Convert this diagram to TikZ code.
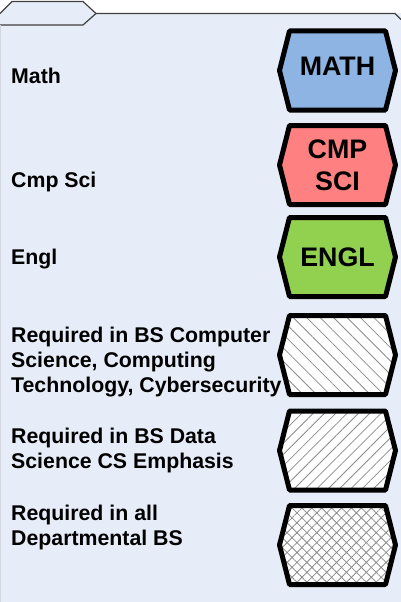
\documentclass[tikz,border=0pt]{standalone}
\usepackage{fontspec}
\setmainfont{Liberation Sans}
\usetikzlibrary{patterns.meta}
\definecolor{panelbg}{RGB}{231,237,248}
\definecolor{framegray}{RGB}{64,64,64}
\definecolor{mathblue}{RGB}{141,180,226}
\definecolor{cmpred}{RGB}{255,128,128}
\definecolor{englgreen}{RGB}{146,208,80}
\definecolor{hatchgray}{RGB}{140,140,140}
\newcommand{\lblfont}{\fontsize{21.3}{25}\selectfont\bfseries}
\newcommand{\crsfont}{\fontsize{26.8}{32}\selectfont\bfseries}
% outline of one course hexagon, drawn from its centre coordinate
\newcommand{\hexpath}[1]{(#1) ++(-58,0) -- ++(10,-39.5) -- ++(96,0) -- ++(10,39.5) -- ++(-10,39.5) -- ++(-96,0) -- cycle}
\tikzset{
x=1pt, y=-1pt, % pixel like units, y runs down
legend/.style={anchor=base west, align=left, inner sep=0pt, font=\lblfont}, % text on the left, anchored at its last line
course/.style={align=center, inner sep=0pt, font=\crsfont}, % text in a hexagon
hexline/.style={line width=5pt, line join=round, draw=black},
hatched/.style={hexline, preaction={fill=white}},
}

\begin{document}
\begin{tikzpicture}
  \useasboundingbox (0,0) rectangle (401,602);
  % panel and its tab
  \fill[panelbg] (0,13.5) rectangle (401,602);
  \draw[framegray, line width=1.2pt, fill=panelbg] (0,13.5) -- (12,1.5) -- (83,1.5) -- (96,13.5) -- (83,25) -- (0,25);
  \draw[framegray, line width=1.2pt] (96,13.5) -- (395,13.5) -- (401,19.5);
  \draw[panelbg!80!gray, line width=1pt] (0.5,25) -- (0.5,602);

  % centres of the hexagons
  \coordinate (mathc) at (337.5,70.5);
  \coordinate (cmpc) at (337.5,165);
  \coordinate (englc) at (337.5,257);
  \coordinate (csc) at (337.5,355);
  \coordinate (dsc) at (337.5,450.5);
  \coordinate (allc) at (337.5,545);

  \draw[hexline, fill=mathblue] \hexpath{mathc};
  \draw[hexline, fill=cmpred] \hexpath{cmpc};
  \draw[hexline, fill=englgreen] \hexpath{englc};
  \draw[hatched, pattern={Lines[angle=-45, distance=9.5pt, line width=0.8pt]}, pattern color=hatchgray] \hexpath{csc};
  \draw[hatched, pattern={Lines[angle=45, distance=8pt, line width=0.8pt]}, pattern color=hatchgray] \hexpath{dsc};
  \draw[hatched, pattern={Hatch[angle=45, distance=7pt, line width=0.8pt]}, pattern color=hatchgray] \hexpath{allc};

  \node[course] (math) at ([yshift=4pt]mathc) {MATH};
  \node[course] (cmp) at (cmpc) {CMP\\SCI};
  \node[course] (engl) at (englc) {ENGL};

  \node[legend] (mathlbl) at (11,84) {Math};
  \node[legend] (cmplbl) at (11,187) {Cmp Sci};
  \node[legend] (engllbl) at (11,264) {Engl};
  \node[legend] (cslbl) at (11,392) {Required in BS Computer\\Science, Computing\\Technology, Cybersecurity};
  \node[legend] (dslbl) at (11,468) {Required in BS Data\\Science CS Emphasis};
  \node[legend] (alllbl) at (11,545) {Required in all\\Departmental BS};
\end{tikzpicture}
\end{document}
